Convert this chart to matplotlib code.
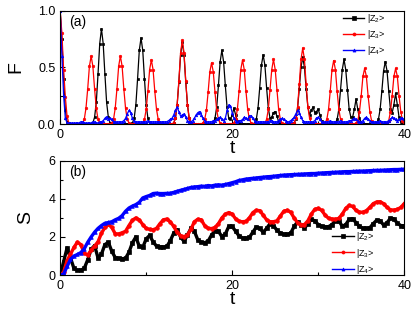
import numpy as np
import matplotlib
matplotlib.use("Agg")
import matplotlib.pyplot as plt
from matplotlib.ticker import MultipleLocator

plt.rcParams['font.family'] = ['Liberation Sans', 'DejaVu Sans']
plt.rcParams['mathtext.fontset'] = 'custom'
plt.rcParams['mathtext.rm'] = 'Liberation Sans'
plt.rcParams['mathtext.it'] = 'Liberation Sans'

# panel (a): fidelity F(t), sampled every 0.2
t_a = np.linspace(0, 40, 201)
f_z2 = [1.0, 0.75, 0.40, 0.12, 0.02,
        0.01, 0, 0, 0, 0,
        0, 0, 0, 0, 0,
        0, 0, 0, 0, 0.01,
        0.06, 0.19, 0.44, 0.71, 0.84,
        0.71, 0.44, 0.19, 0.06, 0.01,
        0.01, 0.01, 0.01, 0, 0,
        0, 0, 0, 0, 0,
        0, 0, 0.01, 0.05, 0.17,
        0.40, 0.65, 0.76, 0.65, 0.40,
        0.17, 0.05, 0.01, 0, 0,
        0, 0, 0, 0, 0,
        0, 0, 0, 0, 0,
        0, 0.01, 0.05, 0.17, 0.37,
        0.61, 0.72, 0.61, 0.37, 0.17,
        0.05, 0.01, 0, 0, 0,
        0, 0, 0, 0, 0,
        0, 0, 0, 0, 0.01,
        0.05, 0.15, 0.34, 0.55, 0.65,
        0.55, 0.34, 0.15, 0.05, 0.04,
        0.08, 0.14, 0.08, 0.03, 0.01,
        0, 0, 0, 0, 0,
        0, 0, 0, 0.01, 0.04,
        0.14, 0.32, 0.52, 0.61, 0.52,
        0.32, 0.14, 0.05, 0.06, 0.10,
        0.11, 0.07, 0.02, 0.01, 0,
        0, 0, 0, 0, 0,
        0, 0.01, 0.04, 0.14, 0.31,
        0.50, 0.59, 0.50, 0.31, 0.15,
        0.08, 0.12, 0.15, 0.10, 0.11,
        0.13, 0.08, 0.03, 0.01, 0,
        0, 0, 0, 0, 0,
        0.01, 0.04, 0.13, 0.30, 0.48,
        0.57, 0.48, 0.30, 0.13, 0.06,
        0.06, 0.13, 0.22, 0.13, 0.05,
        0.01, 0, 0, 0, 0,
        0, 0, 0, 0, 0.01,
        0.04, 0.13, 0.29, 0.47, 0.55,
        0.47, 0.29, 0.13, 0.10, 0.17,
        0.27, 0.17, 0.06, 0.02, 0.01,
        0.0]
f_z3 = [1.0, 0.80, 0.48, 0.24, 0.07,
        0.01, 0, 0, 0, 0,
        0, 0, 0, 0.01, 0.04,
        0.14, 0.31, 0.51, 0.60, 0.51,
        0.31, 0.14, 0.04, 0.01, 0,
        0, 0, 0, 0, 0,
        0.01, 0.04, 0.14, 0.31, 0.51,
        0.60, 0.51, 0.31, 0.14, 0.04,
        0.01, 0, 0, 0, 0,
        0, 0, 0, 0.01, 0.04,
        0.13, 0.29, 0.48, 0.565, 0.48,
        0.29, 0.13, 0.04, 0.01, 0,
        0, 0, 0, 0, 0,
        0, 0.01, 0.05, 0.17, 0.38,
        0.63, 0.74, 0.63, 0.38, 0.17,
        0.05, 0.01, 0, 0, 0,
        0, 0, 0, 0.01, 0.04,
        0.12, 0.28, 0.46, 0.54, 0.46,
        0.28, 0.12, 0.04, 0.01, 0,
        0, 0, 0, 0, 0,
        0, 0.01, 0.04, 0.13, 0.29,
        0.48, 0.565, 0.48, 0.29, 0.13,
        0.04, 0.01, 0, 0, 0,
        0, 0, 0, 0, 0.01,
        0.04, 0.13, 0.30, 0.48, 0.57,
        0.48, 0.30, 0.13, 0.04, 0.01,
        0, 0, 0, 0, 0,
        0, 0.01, 0.05, 0.15, 0.35,
        0.57, 0.67, 0.57, 0.35, 0.15,
        0.05, 0.01, 0, 0, 0,
        0, 0, 0, 0, 0.01,
        0.04, 0.13, 0.29, 0.48, 0.56,
        0.48, 0.29, 0.13, 0.04, 0.01,
        0, 0, 0, 0, 0,
        0, 0, 0.01, 0.03, 0.11,
        0.25, 0.42, 0.49, 0.42, 0.25,
        0.11, 0.03, 0.01, 0, 0,
        0, 0, 0, 0, 0.01,
        0.01, 0.03, 0.11, 0.25, 0.42,
        0.49, 0.42, 0.25, 0.11, 0.03,
        0.01]
f_z4 = [1.0, 0.60, 0.25, 0.05, 0.01,
        0.01, 0.01, 0.01, 0.01, 0.01,
        0.01, 0.01, 0.02, 0.02, 0.01,
        0.01, 0.01, 0.01, 0.01, 0.02,
        0.02, 0.01, 0.01, 0.02, 0.02,
        0.03, 0.05, 0.065, 0.04, 0.05,
        0.04, 0.02, 0.02, 0.02, 0.02,
        0.02, 0.02, 0.03, 0.05, 0.09,
        0.12, 0.10, 0.05, 0.03, 0.02,
        0.02, 0.02, 0.02, 0.02, 0.02,
        0.02, 0.03, 0.02, 0.02, 0.02,
        0.02, 0.02, 0.02, 0.02, 0.02,
        0.02, 0.02, 0.02, 0.03, 0.04,
        0.05, 0.08, 0.12, 0.15, 0.11,
        0.07, 0.08, 0.09, 0.06, 0.03,
        0.02, 0.02, 0.03, 0.05, 0.08,
        0.10, 0.11, 0.08, 0.05, 0.03,
        0.02, 0.02, 0.02, 0.02, 0.03,
        0.03, 0.04, 0.05, 0.06, 0.04,
        0.03, 0.05, 0.12, 0.17, 0.16,
        0.10, 0.05, 0.03, 0.02, 0.03,
        0.03, 0.04, 0.06, 0.05, 0.04,
        0.07, 0.075, 0.05, 0.03, 0.02,
        0.02, 0.02, 0.02, 0.02, 0.02,
        0.02, 0.02, 0.03, 0.03, 0.02,
        0.02, 0.02, 0.03, 0.04, 0.05,
        0.04, 0.03, 0.02, 0.02, 0.03,
        0.04, 0.06, 0.09, 0.12, 0.10,
        0.06, 0.03, 0.02, 0.02, 0.02,
        0.02, 0.02, 0.02, 0.03, 0.05,
        0.06, 0.04, 0.02, 0.02, 0.02,
        0.02, 0.02, 0.03, 0.02, 0.02,
        0.02, 0.02, 0.02, 0.03, 0.02,
        0.02, 0.02, 0.02, 0.03, 0.03,
        0.04, 0.05, 0.04, 0.03, 0.02,
        0.02, 0.03, 0.05, 0.06, 0.04,
        0.03, 0.02, 0.02, 0.02, 0.02,
        0.02, 0.03, 0.02, 0.02, 0.02,
        0.02, 0.03, 0.04, 0.06, 0.05,
        0.04, 0.03, 0.04, 0.05, 0.05,
        0.04]

# panel (b): entropy S(t), sampled every 0.4
t_b = np.linspace(0, 40, 101)
s_z2 = [0.0, 0.7, 1.42, 0.9, 0.35, 0.25, 0.25, 0.35, 0.8, 1.35,
        1.55, 0.9, 1.1, 1.6, 1.72, 1.25, 0.92, 0.87, 0.86, 0.88,
        1.2, 1.7, 2.0, 1.5, 1.45, 1.9, 2.08, 1.75, 1.52, 1.48,
        1.47, 1.5, 1.8, 2.2, 2.38, 2.0, 1.77, 2.1, 2.45, 2.3,
        1.85, 1.72, 1.7, 1.78, 2.1, 2.33, 2.3, 2.02, 2.15, 2.55,
        2.55, 2.3, 2.05, 1.95, 1.92, 1.98, 2.25, 2.52, 2.45, 2.25,
        2.45, 2.7, 2.6, 2.35, 2.2, 2.15, 2.13, 2.2, 2.55, 2.8,
        2.65, 2.46, 2.7, 2.92, 2.85, 2.65, 2.56, 2.53, 2.54, 2.65,
        2.85, 2.85, 2.56, 2.65, 2.92, 2.96, 2.75, 2.55, 2.46, 2.45,
        2.48, 2.7, 2.88, 2.85, 2.63, 2.75, 2.98, 2.95, 2.72, 2.6,
        2.58]
s_z3 = [0.0, 0.15, 0.75, 1.1, 1.45, 1.73, 1.6, 1.15, 1.05, 1.3,
        1.52, 1.75, 2.2, 2.5, 2.66, 2.5, 2.17, 2.16, 2.22, 2.3,
        2.6, 2.88, 3.0, 2.9, 2.65, 2.45, 2.4, 2.38, 2.45, 2.7,
        2.9, 2.94, 2.8, 2.55, 2.25, 2.06, 2.02, 2.1, 2.4, 2.8,
        2.93, 2.9, 2.6, 2.45, 2.44, 2.5, 2.7, 3.0, 3.2, 3.28,
        3.2, 2.95, 2.82, 2.8, 2.82, 3.0, 3.28, 3.4, 3.38, 3.15,
        2.9, 2.8, 2.8, 2.85, 3.1, 3.35, 3.4, 3.3, 3.0, 2.75,
        2.64, 2.65, 2.85, 3.2, 3.45, 3.5, 3.4, 3.15, 2.98, 2.94,
        2.93, 2.98, 3.2, 3.5, 3.66, 3.6, 3.4, 3.3, 3.3, 3.38,
        3.55, 3.75, 3.84, 3.85, 3.75, 3.55, 3.43, 3.41, 3.45, 3.55,
        3.75]
s_z4 = [0.0, 0.05, 0.45, 0.82, 1.0, 1.08, 1.18, 1.38, 1.72, 2.0,
        2.25, 2.45, 2.6, 2.72, 2.76, 2.8, 2.9, 2.98, 3.12, 3.35,
        3.52, 3.62, 3.7, 3.82, 4.05, 4.12, 4.18, 4.28, 4.3, 4.28,
        4.28, 4.29, 4.3, 4.34, 4.4, 4.45, 4.5, 4.55, 4.6, 4.63,
        4.64, 4.67, 4.66, 4.7, 4.68, 4.72, 4.74, 4.72, 4.76, 4.8,
        4.85, 4.9, 4.97, 5.0, 5.04, 5.06, 5.08, 5.1, 5.12, 5.14,
        5.16, 5.17, 5.19, 5.21, 5.23, 5.25, 5.26, 5.27, 5.28, 5.29,
        5.3, 5.31, 5.32, 5.33, 5.33, 5.35, 5.36, 5.37, 5.38, 5.39,
        5.4, 5.41, 5.42, 5.43, 5.43, 5.44, 5.45, 5.46, 5.46, 5.47,
        5.48, 5.49, 5.5, 5.5, 5.51, 5.52, 5.53, 5.54, 5.54, 5.55,
        5.56]

labels = ['|Z$_2$>', '|Z$_3$>', '|Z$_4$>']
colors = ['black', 'red', 'blue']
markers = ['s', 'o', '^']

fig = plt.figure(figsize=(4.15, 3.14), dpi=100)
ax1 = fig.add_axes([0.145, 0.605, 0.829, 0.361])
ax2 = fig.add_axes([0.145, 0.124, 0.829, 0.364])

for ys, c, m, lab in zip([f_z2, f_z3, f_z4], colors, markers, labels):
    ax1.plot(t_a, ys, color=c, marker=m, markersize=1.8, linewidth=0.9,
             markeredgewidth=0.5, label=lab)
for ys, c, m, lab in zip([s_z2, s_z3, s_z4], colors, markers, labels):
    ax2.plot(t_b, ys, color=c, marker=m, markersize=2.6, linewidth=2.4,
             markeredgewidth=0.5, label=lab)

ax1.set_xlim(0, 40)
ax1.set_ylim(0, 1.0)
ax1.yaxis.set_major_locator(MultipleLocator(0.5))
ax1.yaxis.set_minor_locator(MultipleLocator(0.25))
ax1.yaxis.set_major_formatter(matplotlib.ticker.FormatStrFormatter('%.1f'))
ax2.set_xlim(0, 40)
ax2.set_ylim(0, 6)
ax2.yaxis.set_major_locator(MultipleLocator(2))
ax2.yaxis.set_minor_locator(MultipleLocator(1))

legend_pos = [(0.945, 0.99), (0.915, 0.39)]
for ax, pos in zip((ax1, ax2), legend_pos):
    ax.xaxis.set_major_locator(MultipleLocator(20))
    ax.xaxis.set_minor_locator(MultipleLocator(10))
    ax.tick_params(which='both', direction='in', labelsize=9, width=0.8)
    ax.tick_params(which='major', length=3.5)
    ax.tick_params(which='minor', length=2)
    ax.set_xlabel('t', fontsize=14, labelpad=-1)
    for sp in ax.spines.values():
        sp.set_linewidth(0.8)
    leg = ax.legend(loc='upper right', bbox_to_anchor=pos, frameon=False,
                    fontsize=6.5, handlelength=2.4, handletextpad=0.25,
                    labelspacing=0.35, borderpad=0, borderaxespad=0)
    for ln in leg.get_lines():
        ln.set_linewidth(1.0)
        ln.set_markersize(2.2)

ax1.set_ylabel('F', fontsize=14, labelpad=10)
ax2.set_ylabel('S', fontsize=14, labelpad=10)
ax1.text(0.025, 0.9, '(a)', transform=ax1.transAxes, fontsize=10, va='center')
ax2.text(0.025, 0.9, '(b)', transform=ax2.transAxes, fontsize=10, va='center')

fig.savefig('out.png', dpi=100)
